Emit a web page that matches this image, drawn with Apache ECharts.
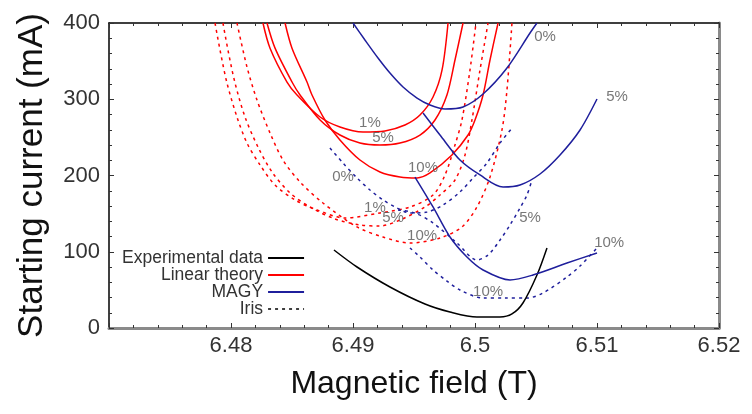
<!DOCTYPE html>
<html>
<head>
<meta charset="utf-8">
<script src="https://cdn.jsdelivr.net/npm/echarts@6/dist/echarts.min.js"></script>
<style>
html,body{margin:0;padding:0;background:#fff;}
#c{width:752px;height:414px;}
</style>
</head>
<body>
<div id="c"></div>
<script>
// ---- data (magnetic field in T, starting current in mA) ----
const xTicks = [6.48, 6.49, 6.5, 6.51, 6.52];
const yTicks = [0, 100, 200, 300, 400];

// Experimental data
const expX = [6.48844, 6.49033, 6.49303, 6.49590, 6.49795, 6.50016, 6.50205, 6.50303, 6.50393, 6.50508, 6.50590];
const expY = [102.3, 80, 53.8, 31.5, 21, 14.4, 14.4, 18.4, 32.8, 69.5, 105];

// Linear theory (solid red)
const lin1X = [6.48262, 6.48320, 6.48459, 6.48541, 6.48730, 6.48893, 6.49082, 6.49262, 6.49426, 6.49549, 6.49656, 6.49730, 6.49779];
const lin1Y = [400, 367, 322.6, 305.6, 276.7, 263.6, 257, 258.4, 266.2, 279.3, 303, 338.4, 400];
const lin5X = [6.48295, 6.48361, 6.48500, 6.48566, 6.48730, 6.48893, 6.49057, 6.49221, 6.49385, 6.49549, 6.49672, 6.49770, 6.49836, 6.49902];
const lin5Y = [400, 367, 322.6, 305.6, 272.8, 253.1, 242.6, 240, 242.6, 253.1, 272.8, 305.6, 351.5, 400];
const lin10X = [6.48443, 6.48500, 6.48623, 6.48664, 6.48770, 6.48893, 6.49057, 6.49221, 6.49385, 6.49525, 6.49631, 6.49811, 6.49943, 6.50000, 6.50066, 6.50123, 6.50189];
const lin10Y = [400, 367, 322.6, 305.6, 272.8, 246.6, 220.3, 204.6, 198, 196.7, 203.3, 226.9, 253.1, 272.8, 305.6, 351.5, 400];

// Linear theory, Iris (dashed red)
const linIris1X = [6.47869, 6.47910, 6.47967, 6.48049, 6.48131, 6.48238, 6.48361, 6.48525, 6.48705, 6.48934, 6.49221, 6.49467, 6.49656, 6.49754, 6.49836, 6.49893, 6.49959, 6.50008];
const linIris1Y = [400, 364.6, 321.3, 276.7, 242.6, 213.8, 187.5, 167.9, 154.8, 144.3, 150.8, 158.7, 174.4, 200.7, 240, 272.8, 338.4, 400];
const linIris5X = [6.47934, 6.47975, 6.48033, 6.48115, 6.48221, 6.48336, 6.48484, 6.48648, 6.48852, 6.49057, 6.49221, 6.49385, 6.49590, 6.49713, 6.49836, 6.49918, 6.49975, 6.50041, 6.50107];
const linIris5Y = [400, 364.6, 321.3, 276.7, 237.4, 204.6, 177.1, 158.7, 143, 135.1, 133.8, 141.6, 158.7, 174.4, 194.1, 226.9, 272.8, 338.4, 400];
const linIris10X = [6.48049, 6.48131, 6.48213, 6.48320, 6.48426, 6.48566, 6.48754, 6.49033, 6.49246, 6.49467, 6.49713, 6.49893, 6.50016, 6.50123, 6.50221, 6.50262, 6.50303];
const linIris10Y = [400, 342.3, 299, 255.7, 220.3, 191.5, 163.9, 132.5, 119.3, 111.5, 118, 132.5, 158.7, 198, 259.7, 312.1, 400];

// MAGY (solid blue)
const magy0X = [6.49000, 6.49098, 6.49205, 6.49303, 6.49410, 6.49525, 6.49631, 6.49754, 6.49902, 6.50066, 6.50262, 6.50451, 6.50508];
const magy0Y = [400, 377.7, 354.1, 334.4, 316.1, 301.6, 292.5, 287.2, 289.8, 306.9, 341, 386.9, 400];
const magy5X = [6.49574, 6.49713, 6.49877, 6.50041, 6.50230, 6.50369, 6.50533, 6.50697, 6.50861, 6.51000];
const magy5Y = [282, 253.1, 220.3, 200.7, 184.9, 187.5, 202, 226.9, 259.7, 300.3];
const magy10X = [6.49508, 6.49656, 6.49795, 6.49934, 6.50066, 6.50287, 6.50475, 6.50754, 6.51000];
const magy10Y = [198, 158.7, 119.3, 93.1, 76.1, 63, 69.5, 85.2, 98.4];

// MAGY, Iris (dashed blue)
const magyIris0X = [6.48811, 6.48918, 6.49033, 6.49139, 6.49246, 6.49361, 6.49467, 6.49607, 6.49738, 6.49877, 6.49984, 6.50098, 6.50205, 6.50311];
const magyIris0Y = [236.1, 216.4, 196.7, 181, 167.9, 157.4, 150.8, 152.1, 161.3, 178.4, 196.7, 216.4, 242.6, 263.6];
const magyIris5X = [6.49369, 6.49508, 6.49656, 6.49852, 6.50016, 6.50107, 6.50205, 6.50287, 6.50369, 6.50426, 6.50467];
const magyIris5Y = [154.8, 150.8, 137.7, 111.5, 89.2, 95.7, 115.4, 135.1, 157.4, 174.4, 194.1];
const magyIris10X = [6.49467, 6.49549, 6.49656, 6.49770, 6.49877, 6.50066, 6.50246, 6.50426, 6.50557, 6.50754, 6.50861, 6.51000];
const magyIris10Y = [105, 93.1, 76.1, 61.6, 49.8, 39.3, 39.3, 39.3, 45.9, 66.9, 81.3, 105];

// curve annotations
const noteText = ['0%', '5%', '10%', '1%', '5%', '10%', '0%', '1%', '5%', '10%', '5%', '10%'];
const noteX = [6.50574, 6.51164, 6.51100, 6.49139, 6.49246, 6.49574, 6.48918, 6.49180, 6.49328, 6.49566, 6.50451, 6.50107];
const noteY = [381.6, 303, 111.5, 268.9, 249.2, 209.8, 198, 157.4, 144.3, 120.7, 144.3, 47.2];

// ---- chart ----
const zip = (xs, ys) => xs.map((x, i) => [x, ys[i]]);
const RED = '#ff0000', BLUE = '#1f1f9c', BLACK = '#000000';
const FONT = 'Liberation Sans, Arial, sans-serif';

function line(name, xs, ys, color, dashed) {
  return {
    name: name, type: 'line', data: zip(xs, ys), symbol: 'none', smooth: 0.3,
    lineStyle: { color: color, width: 1.5, type: dashed ? [3, 4] : 'solid' },
    itemStyle: { color: color }, z: dashed ? 2 : 3
  };
}

const fmtX = v => {
  const r = Math.round(v * 100) / 100;
  return xTicks.some(t => Math.abs(t - r) < 1e-9) ? String(parseFloat(r.toFixed(2))) : '';
};

const chart = echarts.init(document.getElementById('c'), null, { renderer: 'canvas' });
chart.setOption({
  animation: false,
  backgroundColor: '#fff',
  textStyle: { fontFamily: FONT },
  grid: { left: 109, right: 33, top: 23, bottom: 86 },
  legend: {
    orient: 'vertical', align: 'right', left: 117, top: 244,
    itemWidth: 36, itemHeight: 10, itemGap: -1,
    itemStyle: { opacity: 0 },
    textStyle: { fontSize: 17.5, color: '#333', lineHeight: 17, height: 17, fontFamily: FONT },
    data: [
      { name: 'Experimental data' },
      { name: 'Linear theory' },
      { name: 'MAGY' },
      { name: 'Iris', lineStyle: { color: BLACK, type: [3, 4], width: 1.5 } }
    ]
  },
  xAxis: [{
    type: 'value', min: 6.47, max: 6.52, interval: 0.01, position: 'bottom',
    name: 'Magnetic field (T)', nameLocation: 'middle', nameGap: 40,
    nameTextStyle: { fontSize: 32, color: '#111', fontFamily: FONT },
    axisLine: { show: true, onZero: false, lineStyle: { color: '#8a8a8a', width: 3 } },
    axisTick: { show: true, inside: true, length: 5, lineStyle: { color: '#333', width: 1 } },
    minorTick: { show: true, splitNumber: 5, length: 3, lineStyle: { color: '#333', width: 1 } },
    splitLine: { show: false },
    axisLabel: { fontSize: 22, color: '#333', margin: 7, formatter: fmtX, fontFamily: FONT }
  }, {
    type: 'value', min: 6.47, max: 6.52, interval: 0.01, position: 'top',
    axisLine: { show: true, onZero: false, lineStyle: { color: '#000', width: 1.5 } },
    axisTick: { show: true, inside: true, length: 5, lineStyle: { color: '#333', width: 1 } },
    minorTick: { show: true, splitNumber: 5, length: 3, lineStyle: { color: '#333', width: 1 } },
    splitLine: { show: false }, axisLabel: { show: false }
  }],
  yAxis: [{
    type: 'value', min: 0, max: 400, interval: 100, position: 'left',
    name: 'Starting current (mA)', nameLocation: 'middle', nameGap: 59,
    nameTextStyle: { fontSize: 35, color: '#111', fontFamily: FONT },
    axisLine: { show: true, onZero: false, lineStyle: { color: '#000', width: 1.5 } },
    axisTick: { show: true, inside: true, length: 5, lineStyle: { color: '#333', width: 1 } },
    minorTick: { show: true, splitNumber: 5, length: 3, lineStyle: { color: '#333', width: 1 } },
    splitLine: { show: false },
    axisLabel: { fontSize: 22, color: '#333', margin: 9, fontFamily: FONT,
      formatter: v => yTicks.indexOf(v) >= 0 ? String(v) : '' }
  }, {
    type: 'value', min: 0, max: 400, interval: 100, position: 'right',
    axisLine: { show: true, onZero: false, lineStyle: { color: '#8a8a8a', width: 3 } },
    axisTick: { show: true, inside: true, length: 5, lineStyle: { color: '#333', width: 1 } },
    minorTick: { show: true, splitNumber: 5, length: 3, lineStyle: { color: '#333', width: 1 } },
    splitLine: { show: false }, axisLabel: { show: false }
  }],
  series: [
    line('Experimental data', expX, expY, BLACK, false),
    line('Linear theory', lin1X, lin1Y, RED, false),
    line('Linear theory', lin5X, lin5Y, RED, false),
    line('Linear theory', lin10X, lin10Y, RED, false),
    line('MAGY', magy0X, magy0Y, BLUE, false),
    line('MAGY', magy5X, magy5Y, BLUE, false),
    line('MAGY', magy10X, magy10Y, BLUE, false),
    line('Iris', linIris1X, linIris1Y, RED, true),
    line('Iris', linIris5X, linIris5Y, RED, true),
    line('Iris', linIris10X, linIris10Y, RED, true),
    line('Iris', magyIris0X, magyIris0Y, BLUE, true),
    line('Iris', magyIris5X, magyIris5Y, BLUE, true),
    line('Iris', magyIris10X, magyIris10Y, BLUE, true),
    {
      name: 'notes', type: 'scatter', symbolSize: 0, silent: true, z: 5,
      data: noteX.map((x, i) => ({ value: [x, noteY[i]], name: noteText[i] })),
      label: { show: true, position: 'inside', formatter: p => p.name, fontSize: 15, color: '#555', fontFamily: FONT }
    }
  ]
});
</script>
</body>
</html>
